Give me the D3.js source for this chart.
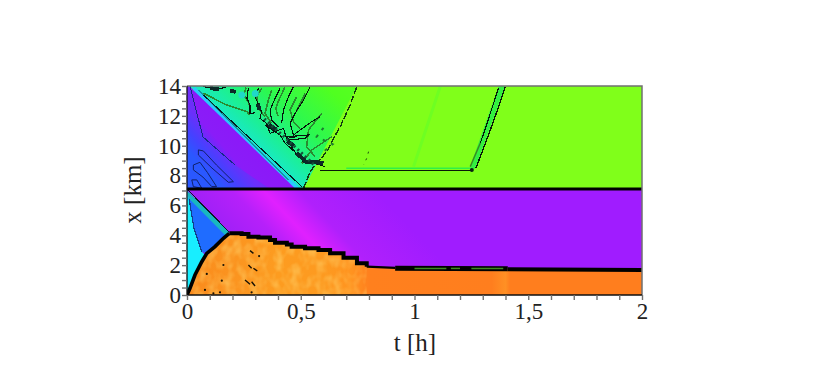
<!DOCTYPE html>
<html><head><meta charset="utf-8">
<script src="https://cdn.jsdelivr.net/npm/d3@7"></script>
<style>html,body{margin:0;background:#fff}svg{display:block}text{font-family:"Liberation Serif",serif;fill:#222}</style>
</head><body><svg id="c" width="830" height="382"></svg>
<script>
// Axis ticks
const tMajor=[0,0.5,1,1.5,2], tLabels=["0","0,5","1","1,5","2"];
const tMinor=[0.1,0.2,0.3,0.4,0.6,0.7,0.8,0.9,1.1,1.2,1.3,1.4,1.6,1.7,1.8,1.9];
const xMajor=[0,2,4,6,8,10,12,14];
const xMinor=[0.5,1,1.5,2.5,3,3.5,4.5,5,5.5,6.5,7,7.5,8.5,9,9.5,10.5,11,11.5,12.5,13,13.5];
// Regions, [t in h, x in km]
const upperRegion=[[0,14],[2,14],[2,7.1],[0,7.1]];
const lowerRegion=[[0,7.1],[2,7.1],[2,0],[0,0]];
const wedgeRegion=[[0.01,14],[0.747,14],[0.512,7.1],[0.49,7.1]];
const fanRegion=[[0,14],[0.01,14],[0.49,7.1],[0,7.1]];
const blueCore=[[0,14],[0.013,14],[0.07,10.59],[0.211,8.71],[0.365,7.1],[0,7.1]];
const cyanRegion=[[0,7.1],[0.01,6.4],[0.03,4.5],[0.065,2.9],[0.085,2.6],[0.0,0]];
const triRegion=[[0.006,6.5],[0.167,4.02],[0.087,2.79],[0.065,2.9],[0.03,4.5]];
const triFringe=[[0.0,7.0],[0.186,4.2],[0.167,3.95],[0.01,6.3]];
const frontRise=[[0,0],[0.013,0.45],[0.035,1.34],[0.065,2.23],[0.087,2.79],[0.123,3.24],[0.16,3.8],[0.186,4.13]];
const frontSteps=[[0.186,4.13],[0.24,4.09],[0.27,3.91],[0.314,3.86],[0.365,3.69],[0.387,3.5],[0.439,3.39],[0.46,3.24],[0.519,3.13],[0.578,3.02],[0.629,2.79],[0.688,2.5],[0.747,2.12],[0.79,1.9]];
const frontThin=[[0.79,1.9],[0.915,1.82]];
const frontBand=[[0.915,1.8],[1.41,1.76]];
const frontTail=[[1.41,1.72],[2,1.68]];
const greenInBand=[[[1.0,1.78],[1.14,1.78]],[[1.16,1.78],[1.2,1.78]],[[1.25,1.78],[1.39,1.78]]];
// Gradient stops, [offset, colour]
const orangeStops=[[0,"#fa8a1c"],[0.1,"#fb9420"],[0.2,"#fd9c20"],[0.3,"#fd9a20"],[0.36,"#ff9420"],[0.4,"#ff801e"],[0.67,"#ff7e1e"],[0.7,"#ff9024"],[0.71,"#ff7e1e"],[1,"#ff7e1e"]];
const wedgeStops=[[0,"#18e8c8"],[0.2,"#1cf094"],[0.45,"#2cf850"],[0.85,"#50ff20"],[1,"#56ff20"]];
const fanStops=[[0,"#2a58ff"],[0.25,"#5038ff"],[0.55,"#8a1cf8"],[1,"#8c18f8"]];
const lowerStops=[[0,"#8e20f4"],[0.36,"#b620fa"],[0.5,"#e020ff"],[0.66,"#b020fc"],[1,"#a01cff"]];
// Contours in the upper half
const blueLoops=[[[0.05,9.72],[0.072,9.65],[0.13,8.7],[0.204,7.59],[0.182,7.55],[0.11,8.5],[0.05,9.38],[0.05,9.72]],[[0.028,8.71],[0.057,8.89],[0.09,8.2],[0.13,7.26],[0.109,7.26],[0.07,7.9],[0.028,8.38],[0.028,8.71]],[[0.021,7.71],[0.043,7.71],[0.065,7.15],[0.028,7.26],[0.021,7.71]]];
const diagCyan=[[0.03,13.85],[0.485,7.15]];
const diagTeal=[[0.05,13.75],[0.445,7.7]];
const diagBlack=[[0.072,13.4],[0.505,7.25]];
const blackContours=[
 [[0.314,13.84],[0.299,13.28],[0.328,12.28],[0.321,11.83],[0.35,11.5],[0.365,10.83],[0.424,11.16],[0.438,10.49],[0.482,10.6]],
 [[0.409,13.84],[0.387,13.17],[0.365,12.39],[0.372,11.72],[0.402,11.27]],
 [[0.468,13.95],[0.446,13.28],[0.424,12.39],[0.416,11.5]],
 [[0.541,13.95],[0.512,13.06],[0.475,12.17],[0.453,11.5],[0.468,10.72],[0.548,11.61],[0.585,11.94]],
 [[0.438,10.6],[0.534,10.72],[0.519,10.49],[0.446,10.38],[0.438,10.6]],
 [[0.46,9.93],[0.482,9.38],[0.519,9.04],[0.607,8.59]],
 [[0.27,13.85],[0.263,13.18],[0.277,12.73],[0.277,12.17],[0.299,12.2]],
 [[0.343,11.39],[0.409,10.72],[0.431,10.16],[0.49,9.38],[0.512,8.89],[0.585,8.82]],
 [[0.07,13.96],[0.13,13.8],[0.17,13.9]]
];
const greenContours=[
 [[0.328,13.84],[0.306,13.28],[0.314,12.5],[0.343,11.94]],
 [[0.372,13.73],[0.358,13.06],[0.343,12.17],[0.372,11.5]],
 [[0.482,13.28],[0.453,12.39],[0.468,11.61],[0.497,11.16]],
 [[0.592,12.17],[0.534,11.05],[0.526,9.93],[0.563,9.26]],
 [[0.636,10.6],[0.548,9.71],[0.504,8.82]],
 [[0.26,13.9],[0.25,13.4],[0.27,12.9],[0.28,12.4]],
 [[0.43,13.9],[0.405,13.1],[0.39,12.5],[0.4,12.0]],
 [[0.52,13.5],[0.5,12.9],[0.48,12.3]],
 [[0.072,13.51],[0.174,12.73],[0.263,12.28],[0.277,12.06]]
];
const wedgeEdge=[[0.512,7.15],[0.541,8.26],[0.57,8.82],[0.615,9.6],[0.644,10.5],[0.674,11.28],[0.717,12.73],[0.747,13.96]];
const darkPatches=[[[0.31,12.8],[0.32,12.4]],[[0.19,13.7],[0.215,13.6]],[[0.1,13.85],[0.14,13.8]],[[0.44,10.3],[0.47,10.0]],[[0.51,8.95],[0.6,8.85]],[[0.36,11.4],[0.39,11.1]],[[0.48,9.5],[0.52,9.0]]];
const speckleTrail=[[0.34,11.8],[0.42,10.7],[0.56,8.7]];
const speckleRight=[[0.6,11.2],[0.57,10.6],[0.64,10.1],[0.6,9.6]];
const tealBlobs=[[0.241,13.4],[0.3,13.5]];
// Features on the lime plateau
const plateauBand=[[1.245,8.6],[1.37,14],[1.399,14],[1.267,8.49],[1.252,8.38]];
const plateauFloor=[[0.585,8.35],[1.252,8.35]];
const plateauGlow=[[0.7,8.49],[1.25,8.49]];
const plateauLeftDark=[[1.245,8.6],[1.29,10.2]];
const plateauLeft=[[1.29,10.2],[1.326,11.84],[1.37,13.89]];
const plateauRight=[[1.27,8.5],[1.325,10.7],[1.362,12.28],[1.399,13.96]];
const plateauFaint=[[0.996,8.6],[1.113,13.96]];
const plateauDash=[[0.798,9.6],[0.79,9.16],[0.776,8.71]];
// Flecks in the orange region
const flecks=[[[0.277,2.97],[0.292,2.79]],[[0.27,2.01],[0.284,1.79]],[[0.292,1.79],[0.309,1.61]],[[0.255,1.01],[0.277,0.72]],[[0.284,0.89],[0.299,0.6]]];
const fleckDots=[[0.079,0.34],[0.153,0.96],[0.16,2.01],[0.087,1.41],[0.116,0.11],[0.145,0.18],[0.284,0.18],[0.317,2.61]];

const W=830,H=382,L=187,R=642,T=86,B=295;
const x=d3.scaleLinear().domain([0,2]).range([L,R]);
const y=d3.scaleLinear().domain([0,14]).range([B,T]);
const line=d3.line().x(d=>x(d[0])).y(d=>y(d[1]));
const stepLine=d3.line().x(d=>x(d[0])).y(d=>y(d[1])).curve(d3.curveStepAfter);
const svg=d3.select("#c");
const defs=svg.append("defs");
function grad(id,a,b,stops){
  const g=defs.append("linearGradient").attr("id",id).attr("gradientUnits","userSpaceOnUse")
    .attr("x1",x(a[0])).attr("y1",y(a[1])).attr("x2",x(b[0])).attr("y2",y(b[1]));
  stops.forEach(s=>g.append("stop").attr("offset",s[0]).attr("stop-color",s[1]));
}
grad("gOrange",[0,0],[2,0],orangeStops);
grad("gWedge",[0.246,10.59],[0.572,16.01],wedgeStops);
grad("gFan",[0.1,8.0],[0.277,10.38],fanStops);
grad("gLower",[0.14,2.2],[0.66,9.7],lowerStops);
const f=defs.append("filter").attr("id","mottle").attr("x",0).attr("y",0).attr("width",1).attr("height",1);
f.append("feTurbulence").attr("type","fractalNoise").attr("baseFrequency","0.12 0.09").attr("numOctaves",2).attr("seed",4);
f.append("feColorMatrix").attr("values","0 0 0 0 1  0 0 0 0 0.66  0 0 0 0 0.15  1.1 0 0 0 -0.42");
f.append("feComposite").attr("in2","SourceAlpha").attr("operator","in");
defs.append("clipPath").attr("id","plot").append("rect").attr("x",L).attr("y",T).attr("width",R-L).attr("height",B-T);

const g=svg.append("g").attr("clip-path","url(#plot)");
const area=(d,fill)=>g.append("path").attr("d",line(d)+"Z").attr("fill",fill);
const stroke=(d,c,w,extra)=>{const p=g.append("path").attr("d",line(d)).attr("fill","none").attr("stroke",c).attr("stroke-width",w).attr("stroke-linejoin","miter");if(extra)extra(p);return p;};
const jag=p=>p.attr("shape-rendering","crispEdges");

area(upperRegion,"#80ff1a");
area(lowerRegion,"url(#gLower)");
area(wedgeRegion,"url(#gWedge)");
area(fanRegion,"url(#gFan)");
area(blueCore,"#2a58ff").attr("opacity",0.3);
area(cyanRegion,"#18eeff");
area(triFringe,"#18b8c0");
area(triRegion,"#1f6cff");
// orange body: stepped upper edge built from the front arrays
const stepD=stepLine(frontSteps).replace(/^M/,"L");
const orangeD=line(frontRise)+stepD+line(frontThin.concat(frontBand,frontTail,[[2,0],[0,0]])).replace(/^M/,"L")+"Z";
g.append("path").attr("d",orangeD).attr("fill","url(#gOrange)");
const mottleD=line(frontRise)+stepD+line([[0.79,0],[0,0]]).replace(/^M/,"L")+"Z";
g.append("path").attr("d",mottleD).attr("fill","#000").attr("filter","url(#mottle)");

blueLoops.forEach(d=>stroke(d,"#10206a",1));
stroke(blueCore.slice(1,4),"#152a88",1,jag);
stroke(diagCyan,"#28c8ff",3.5);
stroke(diagTeal,"#14989c",1.3,jag);
stroke(diagBlack,"#061a20",1,jag);
greenContours.forEach(d=>stroke(d,"#2a8a30",1.6,jag));
blackContours.forEach(d=>stroke(d,"#06140c",1.1,jag));
stroke(wedgeEdge,"#123a12",1.4,jag).attr("stroke-dasharray","7 2");
tealBlobs.forEach(d=>g.append("circle").attr("cx",x(d[0])).attr("cy",y(d[1])).attr("r",3.5).attr("fill","#20d8c8"));
darkPatches.forEach(d=>stroke(d,"#0c2a28",4,jag));
stroke(speckleTrail,"#14503a",3).attr("stroke-dasharray","2 3");
stroke(speckleRight,"#1e7a30",2).attr("stroke-dasharray","3 6");

stroke(plateauFaint,"#6eff22",3);
stroke(plateauGlow,"#30f048",1.6);
area(plateauBand,"#32f040");
stroke(plateauFloor,"#081808",1.2,jag);
stroke(plateauLeftDark,"#3a8a20",1.4);
stroke(plateauLeft,"#081808",1.2,jag);
stroke(plateauRight,"#081808",1.3,jag);
g.append("circle").attr("cx",x(1.252)).attr("cy",y(8.38)).attr("r",2).attr("fill","#0a2010");
stroke(plateauDash,"#1a4a10",1).attr("stroke-dasharray","2 5");

// front and interface
stroke([[0,7.1],[0.186,4.2]],"#0a1c24",1.1,jag);
stroke(cyanRegion.slice(1,4),"#10408a",1.2,jag);
stroke(frontRise,"#000",3.6);
g.append("path").attr("d",stepLine(frontSteps)).attr("fill","none").attr("stroke","#000").attr("stroke-width",4);
stroke(frontThin,"#000",2.2);
stroke(frontBand,"#000",5);
stroke(frontTail,"#000",4);
greenInBand.forEach(d=>stroke(d,"#3c8a20",1.5));
flecks.forEach(d=>stroke(d,"#1a1204",1.4));
fleckDots.forEach(d=>g.append("circle").attr("cx",x(d[0])).attr("cy",y(d[1])).attr("r",1.1).attr("fill","#1a1204"));
stroke([[0,7.1],[2,7.1]],"#000",3);

// frame and axes
svg.append("path").attr("d",`M${x(0)},${y(14)}H${x(2)}V${y(0)}`).attr("fill","none").attr("stroke","#707070").attr("stroke-width",1.5);
svg.append("path").attr("d",`M${x(0)},${y(14)}V${y(0)}H${x(2)}`).attr("fill","none").attr("stroke","#111").attr("stroke-width",1.3);

function styleAxis(s){s.select(".domain").remove();s.selectAll("line").attr("stroke","#707070").attr("stroke-width",1.4);s.selectAll("text").attr("font-size",23).attr("fill","#222").attr("font-family","Liberation Serif");}
svg.append("g").attr("transform",`translate(0,${B})`).call(d3.axisBottom(x).tickValues(tMinor).tickSize(5).tickFormat("")).call(styleAxis);
svg.append("g").attr("transform",`translate(${L},0)`).call(d3.axisLeft(y).tickValues(xMinor).tickSize(5).tickFormat("")).call(styleAxis);
svg.append("g").attr("transform",`translate(0,${B})`).call(d3.axisBottom(x).tickValues(tMajor).tickSize(5).tickPadding(3).tickFormat((d,i)=>tLabels[i])).call(styleAxis);
svg.append("g").attr("transform",`translate(${L},0)`).call(d3.axisLeft(y).tickValues(xMajor).tickSize(5).tickPadding(1).tickFormat(d3.format("d"))).call(styleAxis);

svg.append("text").attr("x",415).attr("y",351).attr("text-anchor","middle").attr("font-size",25).text("t [h]");
svg.append("text").attr("transform","translate(141,190) rotate(-90)").attr("text-anchor","middle").attr("font-size",25).text("x [km]");
</script></body></html>
